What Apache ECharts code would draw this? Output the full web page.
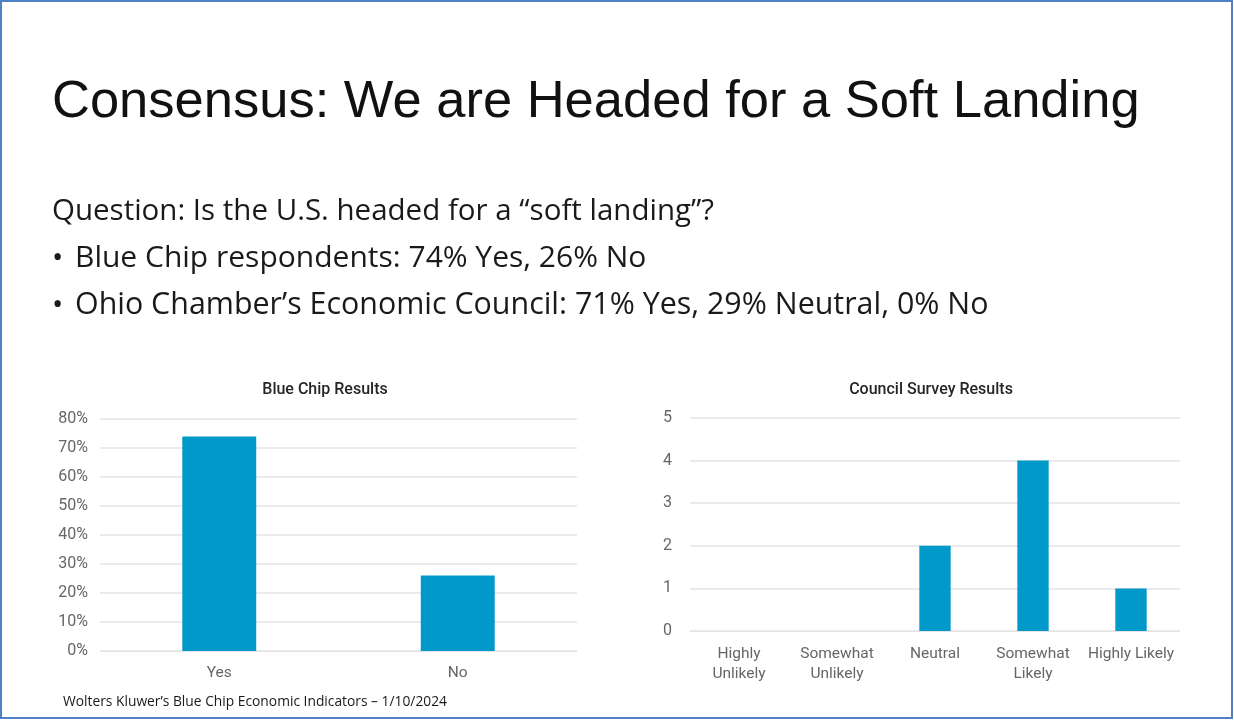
<!DOCTYPE html>
<html>
<head>
<meta charset="utf-8">
<script src="https://cdn.jsdelivr.net/npm/echarts@6/dist/echarts.min.js"></script>
<style>
html,body{margin:0;padding:0;background:#fff;}
#chart{width:1234px;height:721px;}
</style>
</head>
<body>
<div id="chart"></div>
<script>
// ---- data ----
const slideTitle = "Consensus: We are Headed for a Soft Landing";
const questionText = "Question: Is the U.S. headed for a \u201csoft landing\u201d?";
const bullet1 = "Blue Chip respondents: 74% Yes, 26% No";
const bullet2 = "Ohio Chamber\u2019s Economic Council: 71% Yes, 29% Neutral, 0% No";
const footerText = "Wolters Kluwer\u2019s Blue Chip Economic Indicators \u2013 1/10/2024";

const blueChipTitle = "Blue Chip Results";
const blueChipCategories = ["Yes", "No"];
const blueChipValues = [74, 26];

const councilTitle = "Council Survey Results";
const councilCategories = ["Highly\nUnlikely", "Somewhat\nUnlikely", "Neutral", "Somewhat\nLikely", "Highly Likely"];
const councilValues = [0, 0, 2, 4, 1];

const barColor = "#0099c9";
const gridColor = "#e3e3e3";
const labelColor = "#666666";
const chartFont = "Roboto";

const chart = echarts.init(document.getElementById('chart'), null, {renderer: 'canvas'});
chart.setOption({
  backgroundColor: '#ffffff',
  animation: false,
  title: [
    {text: blueChipTitle, left: 320, top: 377, textAlign: 'center',
     textStyle: {fontFamily: chartFont, fontSize: 16, fontWeight: 500, color: '#262626'}},
    {text: councilTitle, left: 926, top: 377, textAlign: 'center',
     textStyle: {fontFamily: chartFont, fontSize: 16, fontWeight: 500, color: '#262626'}}
  ],
  grid: [
    {left: 100, right: 657, top: 419, bottom: 70},
    {left: 690, right: 54, top: 418, bottom: 90}
  ],
  xAxis: [
    {type: 'category', gridIndex: 0, data: blueChipCategories,
     axisLine: {lineStyle: {color: gridColor}}, axisTick: {show: false},
     axisLabel: {color: labelColor, fontFamily: chartFont, fontSize: 15.5, margin: 14}},
    {type: 'category', gridIndex: 1, data: councilCategories,
     axisLine: {lineStyle: {color: gridColor}}, axisTick: {show: false},
     axisLabel: {color: labelColor, fontFamily: chartFont, fontSize: 15.5, margin: 13, lineHeight: 20, interval: 0}}
  ],
  yAxis: [
    {type: 'value', gridIndex: 0, min: 0, max: 80, interval: 10,
     axisLabel: {formatter: '{value}%', color: labelColor, fontFamily: chartFont, fontSize: 16, margin: 12},
     splitLine: {lineStyle: {color: gridColor, width: 1.5}}, axisLine: {show: false}, axisTick: {show: false}},
    {type: 'value', gridIndex: 1, min: 0, max: 5, interval: 1,
     axisLabel: {color: labelColor, fontFamily: chartFont, fontSize: 16, margin: 18},
     splitLine: {lineStyle: {color: gridColor, width: 1.5}}, axisLine: {show: false}, axisTick: {show: false}}
  ],
  series: [
    {type: 'bar', xAxisIndex: 0, yAxisIndex: 0, data: blueChipValues, barWidth: '31%',
     itemStyle: {color: barColor}},
    {type: 'bar', xAxisIndex: 1, yAxisIndex: 1, data: councilValues, barWidth: '32%',
     itemStyle: {color: barColor}}
  ],
  graphic: [
    {type: 'rect', shape: {x: 1, y: 1, width: 1231, height: 717},
     style: {fill: 'none', stroke: '#4f81c7', lineWidth: 2}, silent: true},
    {type: 'text', left: 52, top: 76,
     style: {text: slideTitle, font: '52.5px "Liberation Sans", Arial, sans-serif', fill: '#111'}},
    {type: 'text', left: 52, top: 197,
     style: {text: questionText, font: '29.5px "Open Sans", sans-serif', fill: '#1a1a1a'}},
    {type: 'text', left: 52, top: 243,
     style: {text: '\u2022', font: '30px "Open Sans", sans-serif', fill: '#1a1a1a'}},
    {type: 'text', left: 75, top: 243,
     style: {text: bullet1, font: '30px "Open Sans", sans-serif', fill: '#1a1a1a'}},
    {type: 'text', left: 52, top: 290,
     style: {text: '\u2022', font: '30px "Open Sans", sans-serif', fill: '#1a1a1a'}},
    {type: 'text', left: 75, top: 290,
     style: {text: bullet2, font: '30.4px "Open Sans", sans-serif', fill: '#1a1a1a'}},
    {type: 'text', left: 63, top: 695,
     style: {text: footerText, font: '13.8px "Open Sans", sans-serif', fill: '#1a1a1a'}}
  ]
});
</script>
</body>
</html>
